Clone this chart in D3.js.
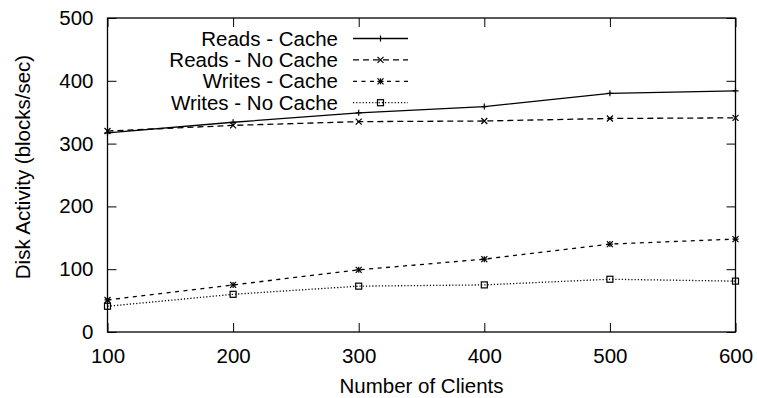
<!DOCTYPE html>
<html>
<head>
<meta charset="utf-8">
<script src="https://cdn.jsdelivr.net/npm/d3@7"></script>
<style>
  body { margin: 0; background: #fff; }
  text { font-family: "Liberation Sans", Arial, sans-serif; fill: #000; }
</style>
</head>
<body>
<svg id="chart" width="757" height="398"></svg>
<script>
// DATA
const clients = [100, 200, 300, 400, 500, 600];
const readsCache = [317, 334, 349, 359, 380, 384];
const readsNoCache = [320, 329, 335, 336, 340, 341];
const writesCache = [51, 75, 99, 116, 140, 148];
const writesNoCache = [41, 60, 73, 75, 84, 81];
const seriesNames = ['Reads - Cache', 'Reads - No Cache', 'Writes - Cache', 'Writes - No Cache'];
const xTicks = [100, 200, 300, 400, 500, 600];
const yTicks = [0, 100, 200, 300, 400, 500];

// LAYOUT
const _margin = {left: 107.5, right: 21.5, top: 18, bottom: 66};
const _w = 757 - _margin.left - _margin.right;
const _h = 398 - _margin.top - _margin.bottom;
const _tick = 9;
const _font = 20.5;

const series = [
  {name: seriesNames[0], values: readsCache, dash: null, mark: 'plus'},
  {name: seriesNames[1], values: readsNoCache, dash: '6,4', mark: 'cross'},
  {name: seriesNames[2], values: writesCache, dash: '4,4.5', mark: 'star'},
  {name: seriesNames[3], values: writesNoCache, dash: '1.2,2', mark: 'box'}
];

const svg = d3.select('#chart');
const g = svg.append('g').attr('transform', `translate(${_margin.left}, ${_margin.top})`);

const x = d3.scaleLinear().domain([100, 600]).range([0, _w]);
const y = d3.scaleLinear().domain([0, 500]).range([_h, 0]);

// axes (ticks inward, mirrored)
g.append('g').attr('transform', `translate(0, ${_h})`)
  .call(d3.axisBottom(x).tickValues(xTicks).tickSize(-_tick).tickPadding(_tick + 7).tickFormat(d3.format('d')))
  .call(a => a.select('.domain').remove());
g.append('g')
  .call(d3.axisTop(x).tickValues(xTicks).tickSize(-_tick).tickFormat(''))
  .call(a => a.select('.domain').remove());
g.append('g')
  .call(d3.axisLeft(y).tickValues(yTicks).tickSize(-_tick).tickPadding(_tick + 5).tickFormat(d3.format('d')))
  .call(a => a.select('.domain').remove());
g.append('g').attr('transform', `translate(${_w}, 0)`)
  .call(d3.axisRight(y).tickValues(yTicks).tickSize(-_tick).tickFormat(''))
  .call(a => a.select('.domain').remove());

g.selectAll('.tick line').attr('stroke', '#000').attr('stroke-width', 1);
g.selectAll('.tick text').attr('font-size', _font).attr('font-family', '"Liberation Sans", Arial, sans-serif');

g.append('rect')
  .attr('x', 0).attr('y', 0).attr('width', _w).attr('height', _h)
  .attr('fill', 'none').attr('stroke', '#000').attr('stroke-width', 1.3);

// titles
svg.append('text')
  .attr('x', _margin.left + _w / 2).attr('y', 393)
  .attr('text-anchor', 'middle').attr('font-size', _font)
  .text('Number of Clients');
svg.append('text')
  .attr('transform', `translate(22.5, 167) rotate(-90)`)
  .attr('text-anchor', 'middle').attr('dy', '0.35em').attr('font-size', _font)
  .text('Disk Activity (blocks/sec)');

// markers
function drawMark(sel, type, cx, cy) {
  const s = 3;
  if (type === 'plus' || type === 'star') {
    sel.append('path').attr('d', `M${cx - s},${cy}H${cx + s}M${cx},${cy - s}V${cy + s}`);
  }
  if (type === 'cross' || type === 'star') {
    sel.append('path').attr('d', `M${cx - s},${cy - s}L${cx + s},${cy + s}M${cx - s},${cy + s}L${cx + s},${cy - s}`);
  }
  if (type === 'box') {
    sel.append('rect').attr('x', cx - s).attr('y', cy - s).attr('width', 2 * s).attr('height', 2 * s).attr('fill', 'none');
  }
}

const line = d3.line().x((d, i) => x(clients[i])).y(d => y(d));

series.forEach(s => {
  g.append('path')
    .datum(s.values)
    .attr('d', line)
    .attr('fill', 'none')
    .attr('stroke', '#000')
    .attr('stroke-width', 1.3)
    .attr('stroke-dasharray', s.dash);
  const m = g.append('g').attr('stroke', '#000').attr('stroke-width', 1.2);
  s.values.forEach((v, i) => drawMark(m, s.mark, x(clients[i]), y(v)));
});

// legend
const legend = svg.append('g').attr('transform', 'translate(338, 38.5)');
series.forEach((s, i) => {
  const row = legend.append('g').attr('transform', `translate(0, ${i * 21.4})`);
  row.append('text')
    .attr('x', 0).attr('y', 0).attr('dy', '0.35em')
    .attr('text-anchor', 'end').attr('font-size', _font)
    .text(s.name);
  row.append('line')
    .attr('x1', 15).attr('x2', 70).attr('y1', 0).attr('y2', 0)
    .attr('stroke', '#000').attr('stroke-width', 1.3)
    .attr('stroke-dasharray', s.dash);
  const m = row.append('g').attr('stroke', '#000').attr('stroke-width', 1.2);
  drawMark(m, s.mark, 42.5, 0);
});
</script>
</body>
</html>
